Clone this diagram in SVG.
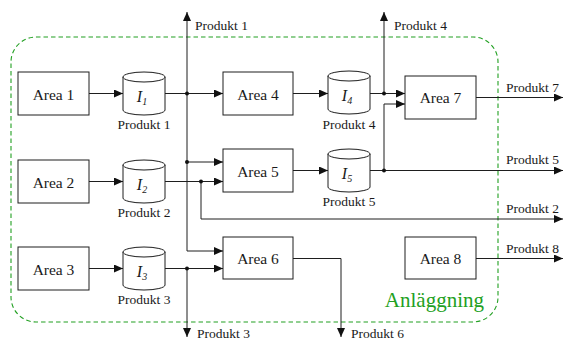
<svg xmlns="http://www.w3.org/2000/svg" width="565" height="341" viewBox="0 0 565 341">
  <style>
    text { font-family: "Liberation Serif", "Times New Roman", serif; }
    .box { fill: #ffffff; stroke: #1e1e1e; stroke-width: 1; }
    .cyl { fill: #ffffff; stroke: #1e1e1e; stroke-width: 1; }
    .lbl { font-size: 15.5px; fill: #1a1a1a; text-anchor: middle; }
    .sym { font-style: italic; font-size: 16px; fill: #1a1a1a; text-anchor: middle; }
    .sub { font-size: 10px; }
    .prod { font-size: 13.5px; fill: #1a1a1a; }
    .mid { text-anchor: middle; }
    .wire { fill: none; stroke: #1e1e1e; stroke-width: 1; }
    .arr { marker-end: url(#head); }
    .dot { fill: #111111; }
    .plant { fill: none; stroke: #22a022; stroke-width: 1.1; stroke-dasharray: 4.5 3; }
    .plantlbl { font-size: 21px; fill: #22a022; text-anchor: end; }
  </style>
  <defs>
    <marker id="head" markerUnits="userSpaceOnUse" markerWidth="9" markerHeight="8" refX="9" refY="4" orient="auto">
      <path d="M0,0 L9,4 L0,8 Z" fill="#111111"/>
    </marker>
    <!-- storage cylinder, 42 wide and 43 tall, origin at top-left -->
    <g id="tank">
      <path class="cyl" d="M0,5 V38 A21,5 0 0 0 42,38 V5"/>
      <ellipse class="cyl" cx="21" cy="5" rx="21" ry="5"/>
    </g>
  </defs>

  <!-- plant boundary -->
  <g id="anlaggning">
    <rect class="plant" x="11" y="37" width="487" height="285" rx="25" ry="25"/>
    <text class="plantlbl" x="484" y="307">Anläggning</text>
  </g>

  <!-- connectors -->
  <g id="connectors">
    <path class="wire arr" d="M89,93.5 H123"/>
    <path class="wire arr" d="M165,93.5 H223"/>
    <path class="wire arr" d="M187,251 V12"/>
    <path class="wire arr" d="M187,251 H223"/>
    <path class="wire arr" d="M187,162 H223"/>
    <path class="wire arr" d="M293,93.5 H328"/>
    <path class="wire arr" d="M370,93.5 H405"/>
    <path class="wire arr" d="M384,93.5 V12"/>
    <path class="wire arr" d="M89,181.5 H123"/>
    <path class="wire arr" d="M165,181.5 H223"/>
    <path class="wire arr" d="M201,181.5 V219 H563"/>
    <path class="wire arr" d="M293,170.5 H328"/>
    <path class="wire arr" d="M370,170.5 H563"/>
    <path class="wire arr" d="M384,170.5 V104 H405"/>
    <path class="wire arr" d="M476,97.5 H563"/>
    <path class="wire arr" d="M89,268.5 H123"/>
    <path class="wire arr" d="M165,268.5 H223"/>
    <path class="wire arr" d="M187,268.5 V337"/>
    <path class="wire arr" d="M293,258.5 H341 V337"/>
    <path class="wire arr" d="M476,258.5 H563"/>
    <circle class="dot" cx="187" cy="93.5" r="2"/>
    <circle class="dot" cx="187" cy="162" r="2"/>
    <circle class="dot" cx="201" cy="181.5" r="2"/>
    <circle class="dot" cx="187" cy="268.5" r="2"/>
    <circle class="dot" cx="384" cy="93.5" r="2"/>
    <circle class="dot" cx="384" cy="170.5" r="2"/>
    <!-- product labels on the flows -->
    <text class="prod" x="195" y="30">Produkt 1</text>
    <text class="prod" x="394" y="30">Produkt 4</text>
    <text class="prod" x="506" y="92">Produkt 7</text>
    <text class="prod" x="506" y="164">Produkt 5</text>
    <text class="prod" x="506" y="213">Produkt 2</text>
    <text class="prod" x="506" y="253">Produkt 8</text>
    <text class="prod" x="197" y="338">Produkt 3</text>
    <text class="prod" x="351" y="338">Produkt 6</text>
  </g>

  <!-- production areas -->
  <g id="area1"><rect class="box" x="18" y="72" width="71" height="43"/><text class="lbl" x="53.5" y="99.5">Area 1</text></g>
  <g id="area2"><rect class="box" x="18" y="160" width="71" height="43"/><text class="lbl" x="53.5" y="187.5">Area 2</text></g>
  <g id="area3"><rect class="box" x="18" y="247" width="71" height="43"/><text class="lbl" x="53.5" y="274.5">Area 3</text></g>
  <g id="area4"><rect class="box" x="223" y="72" width="70" height="43"/><text class="lbl" x="258" y="99.5">Area 4</text></g>
  <g id="area5"><rect class="box" x="223" y="149" width="70" height="43"/><text class="lbl" x="258" y="176.5">Area 5</text></g>
  <g id="area6"><rect class="box" x="223" y="237" width="70" height="42"/><text class="lbl" x="258" y="264">Area 6</text></g>
  <g id="area7"><rect class="box" x="405" y="76" width="71" height="43"/><text class="lbl" x="440.5" y="103">Area 7</text></g>
  <g id="area8"><rect class="box" x="405" y="237" width="71" height="42"/><text class="lbl" x="440.5" y="264">Area 8</text></g>

  <!-- intermediate stores -->
  <g id="i1">
    <use href="#tank" x="123" y="72"/>
    <text class="sym" x="142" y="102">I<tspan class="sub" dy="3">1</tspan></text>
    <text class="prod mid" x="144" y="129">Produkt 1</text>
  </g>
  <g id="i2">
    <use href="#tank" x="123" y="160"/>
    <text class="sym" x="142" y="190">I<tspan class="sub" dy="3">2</tspan></text>
    <text class="prod mid" x="144" y="217">Produkt 2</text>
  </g>
  <g id="i3">
    <use href="#tank" x="123" y="247"/>
    <text class="sym" x="142" y="277">I<tspan class="sub" dy="3">3</tspan></text>
    <text class="prod mid" x="144" y="304">Produkt 3</text>
  </g>
  <g id="i4">
    <use href="#tank" x="328" y="71"/>
    <text class="sym" x="347" y="101">I<tspan class="sub" dy="3">4</tspan></text>
    <text class="prod mid" x="349" y="129">Produkt 4</text>
  </g>
  <g id="i5">
    <use href="#tank" x="328" y="149"/>
    <text class="sym" x="347" y="179">I<tspan class="sub" dy="3">5</tspan></text>
    <text class="prod mid" x="349" y="206">Produkt 5</text>
  </g>
</svg>
